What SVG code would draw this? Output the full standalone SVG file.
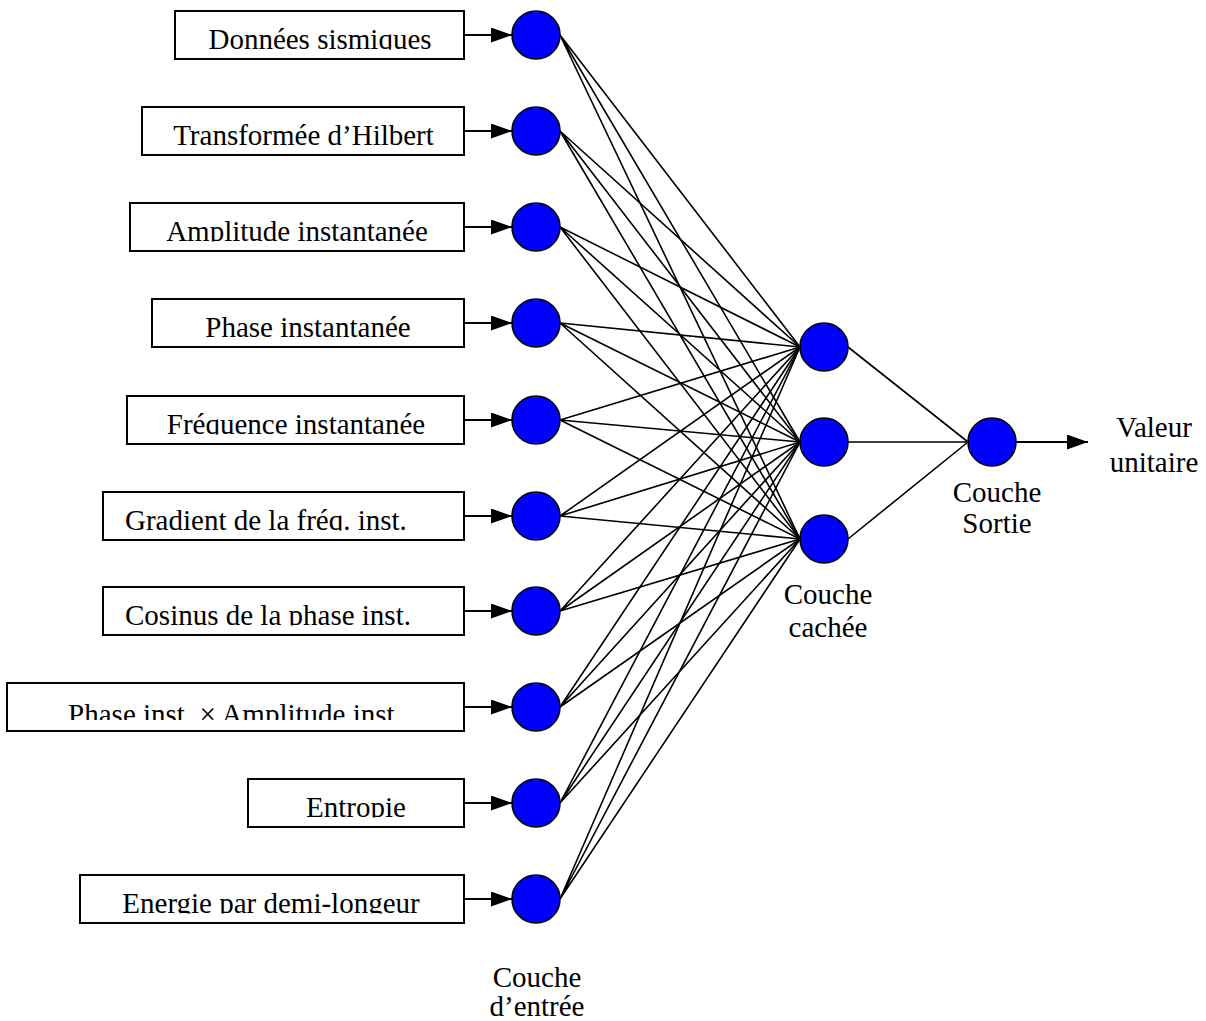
<svg xmlns="http://www.w3.org/2000/svg" width="1206" height="1021" viewBox="0 0 1206 1021">
<style>
  .box{fill:#fff;stroke:#000;stroke-width:2}
  .n{fill:#0000ff;stroke:#000;stroke-width:1.6}
  .t{font-family:"Liberation Serif","Times New Roman",serif;font-size:29px;fill:#000}
  .c{text-anchor:middle}
  .e{stroke:#000;stroke-width:1.6;fill:none}
  .a{stroke:#000;stroke-width:2;fill:none;marker-end:url(#ah)}
</style>
<defs>
  <marker id="ah" markerUnits="userSpaceOnUse" markerWidth="22" markerHeight="16" refX="21" refY="7.5" orient="auto">
    <path d="M0,0 L21,7.5 L0,15 z" fill="#000"/>
  </marker>
  <clipPath id="k1" clipPathUnits="userSpaceOnUse"><rect x="175" y="11" width="289" height="38.5"/></clipPath>
  <clipPath id="k2" clipPathUnits="userSpaceOnUse"><rect x="142" y="107" width="322" height="38.5"/></clipPath>
  <clipPath id="k3" clipPathUnits="userSpaceOnUse"><rect x="130" y="203" width="334" height="38.5"/></clipPath>
  <clipPath id="k4" clipPathUnits="userSpaceOnUse"><rect x="152" y="299" width="312" height="38.5"/></clipPath>
  <clipPath id="k5" clipPathUnits="userSpaceOnUse"><rect x="127" y="396" width="337" height="38.5"/></clipPath>
  <clipPath id="k6" clipPathUnits="userSpaceOnUse"><rect x="103" y="492" width="361" height="38.5"/></clipPath>
  <clipPath id="k7" clipPathUnits="userSpaceOnUse"><rect x="103" y="587" width="361" height="38.5"/></clipPath>
  <clipPath id="k8" clipPathUnits="userSpaceOnUse"><rect x="7" y="683" width="457" height="37"/></clipPath>
  <clipPath id="k9" clipPathUnits="userSpaceOnUse"><rect x="248" y="779" width="216" height="38.5"/></clipPath>
  <clipPath id="k10" clipPathUnits="userSpaceOnUse"><rect x="80" y="875" width="384" height="38.5"/></clipPath>
</defs>
<rect width="1206" height="1021" fill="#fff"/>

<g id="connectors">
  <g id="input-hidden">
    <path class="e" d="M560,35L800,347M560,35L800,442M560,35L800,539"/>
    <path class="e" d="M560,131L800,347M560,131L800,442M560,131L800,539"/>
    <path class="e" d="M560,227L800,347M560,227L800,442M560,227L800,539"/>
    <path class="e" d="M560,323L800,347M560,323L800,442M560,323L800,539"/>
    <path class="e" d="M560,420L800,347M560,420L800,442M560,420L800,539"/>
    <path class="e" d="M560,516L800,347M560,516L800,442M560,516L800,539"/>
    <path class="e" d="M560,611L800,347M560,611L800,442M560,611L800,539"/>
    <path class="e" d="M560,707L800,347M560,707L800,442M560,707L800,539"/>
    <path class="e" d="M560,803L800,347M560,803L800,442M560,803L800,539"/>
    <path class="e" d="M560,899L800,347M560,899L800,442M560,899L800,539"/>
  </g>
  <g id="hidden-output">
    <path class="e" d="M848,347L968,442M848,442L968,442M848,539L968,442"/>
  </g>
  <g id="arrows">
    <line class="a" x1="464" y1="35" x2="512" y2="35"/>
    <line class="a" x1="464" y1="131" x2="512" y2="131"/>
    <line class="a" x1="464" y1="227" x2="512" y2="227"/>
    <line class="a" x1="464" y1="323" x2="512" y2="323"/>
    <line class="a" x1="464" y1="420" x2="512" y2="420"/>
    <line class="a" x1="464" y1="516" x2="512" y2="516"/>
    <line class="a" x1="464" y1="611" x2="512" y2="611"/>
    <line class="a" x1="464" y1="707" x2="512" y2="707"/>
    <line class="a" x1="464" y1="803" x2="512" y2="803"/>
    <line class="a" x1="464" y1="899" x2="512" y2="899"/>
    <line class="a" x1="1016" y1="442" x2="1088" y2="442"/>
  </g>
</g>

<g id="box1"><rect class="box" x="175" y="11" width="289" height="48"/><text class="t c" x="320" y="49" clip-path="url(#k1)">Données sismiques</text></g>
<g id="box2"><rect class="box" x="142" y="107" width="322" height="48"/><text class="t c" x="303.5" y="145" clip-path="url(#k2)">Transformée d’Hilbert</text></g>
<g id="box3"><rect class="box" x="130" y="203" width="334" height="48"/><text class="t c" x="297" y="241" clip-path="url(#k3)">Amplitude instantanée</text></g>
<g id="box4"><rect class="box" x="152" y="299" width="312" height="48"/><text class="t c" x="308" y="337" clip-path="url(#k4)">Phase instantanée</text></g>
<g id="box5"><rect class="box" x="127" y="396" width="337" height="48"/><text class="t c" x="296" y="434" clip-path="url(#k5)">Fréquence instantanée</text></g>
<g id="box6"><rect class="box" x="103" y="492" width="361" height="48"/><text class="t" x="125" y="530" clip-path="url(#k6)">Gradient de la fréq. inst.</text></g>
<g id="box7"><rect class="box" x="103" y="587" width="361" height="48"/><text class="t" x="125" y="625" clip-path="url(#k7)">Cosinus de la phase inst.</text></g>
<g id="box8"><rect class="box" x="7" y="683" width="457" height="48"/><text class="t c" x="235" y="723.5" clip-path="url(#k8)">Phase inst. × Amplitude inst.</text></g>
<g id="box9"><rect class="box" x="248" y="779" width="216" height="48"/><text class="t c" x="356" y="817" clip-path="url(#k9)">Entropie</text></g>
<g id="box10"><rect class="box" x="80" y="875" width="384" height="48"/><text class="t c" x="271" y="913" clip-path="url(#k10)">Energie par demi-longeur</text></g>

<g id="input-nodes">
  <circle id="in1" class="n" cx="536" cy="35" r="24"/>
  <circle id="in2" class="n" cx="536" cy="131" r="24"/>
  <circle id="in3" class="n" cx="536" cy="227" r="24"/>
  <circle id="in4" class="n" cx="536" cy="323" r="24"/>
  <circle id="in5" class="n" cx="536" cy="420" r="24"/>
  <circle id="in6" class="n" cx="536" cy="516" r="24"/>
  <circle id="in7" class="n" cx="536" cy="611" r="24"/>
  <circle id="in8" class="n" cx="536" cy="707" r="24"/>
  <circle id="in9" class="n" cx="536" cy="803" r="24"/>
  <circle id="in10" class="n" cx="536" cy="899" r="24"/>
</g>
<g id="hidden-nodes">
  <circle id="h1" class="n" cx="824" cy="347" r="24"/>
  <circle id="h2" class="n" cx="824" cy="442" r="24"/>
  <circle id="h3" class="n" cx="824" cy="539" r="24"/>
</g>
<g id="output-node">
  <circle id="o1" class="n" cx="992" cy="442" r="24"/>
</g>

<g id="labels">
  <text class="t c" x="537" y="987">Couche</text>
  <text class="t c" x="537" y="1016">d’entrée</text>
  <text class="t c" x="828" y="604">Couche</text>
  <text class="t c" x="828" y="637">cachée</text>
  <text class="t c" x="997" y="502">Couche</text>
  <text class="t c" x="997" y="533">Sortie</text>
  <text class="t c" x="1154" y="437">Valeur</text>
  <text class="t c" x="1154" y="472">unitaire</text>
</g>
</svg>
